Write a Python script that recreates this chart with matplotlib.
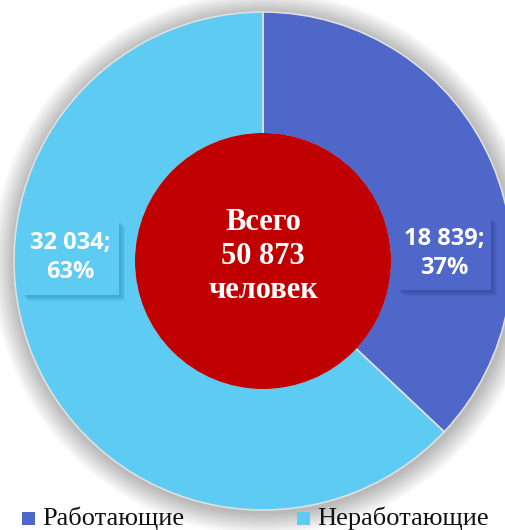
import matplotlib
matplotlib.use("Agg")
import matplotlib.pyplot as plt
from matplotlib.patches import Circle, Rectangle

categories = ["Работающие", "Неработающие"]
values = [18839, 32034]
colors = ["#4F67C8", "#5DCBF2"]
center_color = "#C00000"
center_title = "Всего"
center_unit = "человек"

W, H = 505, 530
fig = plt.figure(figsize=(W / 100, H / 100), dpi=100)
fig.patch.set_facecolor("white")
ax = fig.add_axes([0, 0, 1, 1])

def Y(p):
    return H - p

cx, cy = 263, Y(261)
R_out, R_in = 249, 127

# soft shadow around the donut
for i in range(18):
    ax.add_patch(Circle((cx + 1, cy - 2), R_out + 1 + i * 1.3, color="black",
                        alpha=0.014, lw=0, zorder=0))

total = sum(values)
wedges, _ = ax.pie(values, colors=colors, startangle=90, counterclock=False,
                   center=(cx, cy), radius=R_out,
                   wedgeprops=dict(width=R_out - R_in, edgecolor="#E0E0E0", linewidth=1.2),
                   frame=True)
for w in wedges:
    w.set_zorder(2)

ax.add_patch(Circle((cx, cy), R_in + 1, color=center_color, lw=0, zorder=3))

for yy, s in zip([223, 257, 290], [center_title, f"{total:,}".replace(",", " "), center_unit]):
    ax.text(cx, Y(yy), s, ha="center", va="center", color="white",
            fontsize=22, fontweight="bold", family="Liberation Serif", zorder=5)

# data label boxes (x0, y0_top, x1, y1_bottom) in px
boxes = [(397, 217, 491, 290), (22, 220, 119, 295)]
shadow_cols = ["#2E3F8A", "#2A8DB0"]
for v, col, sc, (x0, y0, x1, y1) in zip(values, colors, shadow_cols, boxes):
    for k in range(5):
        ax.add_patch(Rectangle((x0 + 2 + k, Y(y1) - 2 - k), (x1 - x0), (y1 - y0),
                               color=sc, alpha=0.12, lw=0, zorder=6))
    ax.add_patch(Rectangle((x0, Y(y1)), x1 - x0, y1 - y0, color=col, lw=0, zorder=7))
    pct = round(v / total * 100)
    txt = f"{v:,}".replace(",", " ") + ";\n" + f"{pct}%"
    ax.text((x0 + x1) / 2, Y((y0 + y1) / 2), txt, ha="center", va="center",
            color="white", fontsize=17, fontweight="bold", family="Open Sans",
            linespacing=1.3, zorder=8)

# legend
leg_x = [22, 297]
for lx, cat, col in zip(leg_x, categories, colors):
    ax.add_patch(Rectangle((lx, Y(525)), 13, 13, color=col, lw=0, zorder=9))
    ax.text(lx + 20, Y(525), cat, ha="left", va="baseline", color="#111111",
            fontsize=19, family="Liberation Serif", zorder=9)

ax.set_xlim(0, W)
ax.set_ylim(0, H)
ax.set_aspect("auto")
ax.axis("off")

fig.savefig("out.png", dpi=100, facecolor="white")
